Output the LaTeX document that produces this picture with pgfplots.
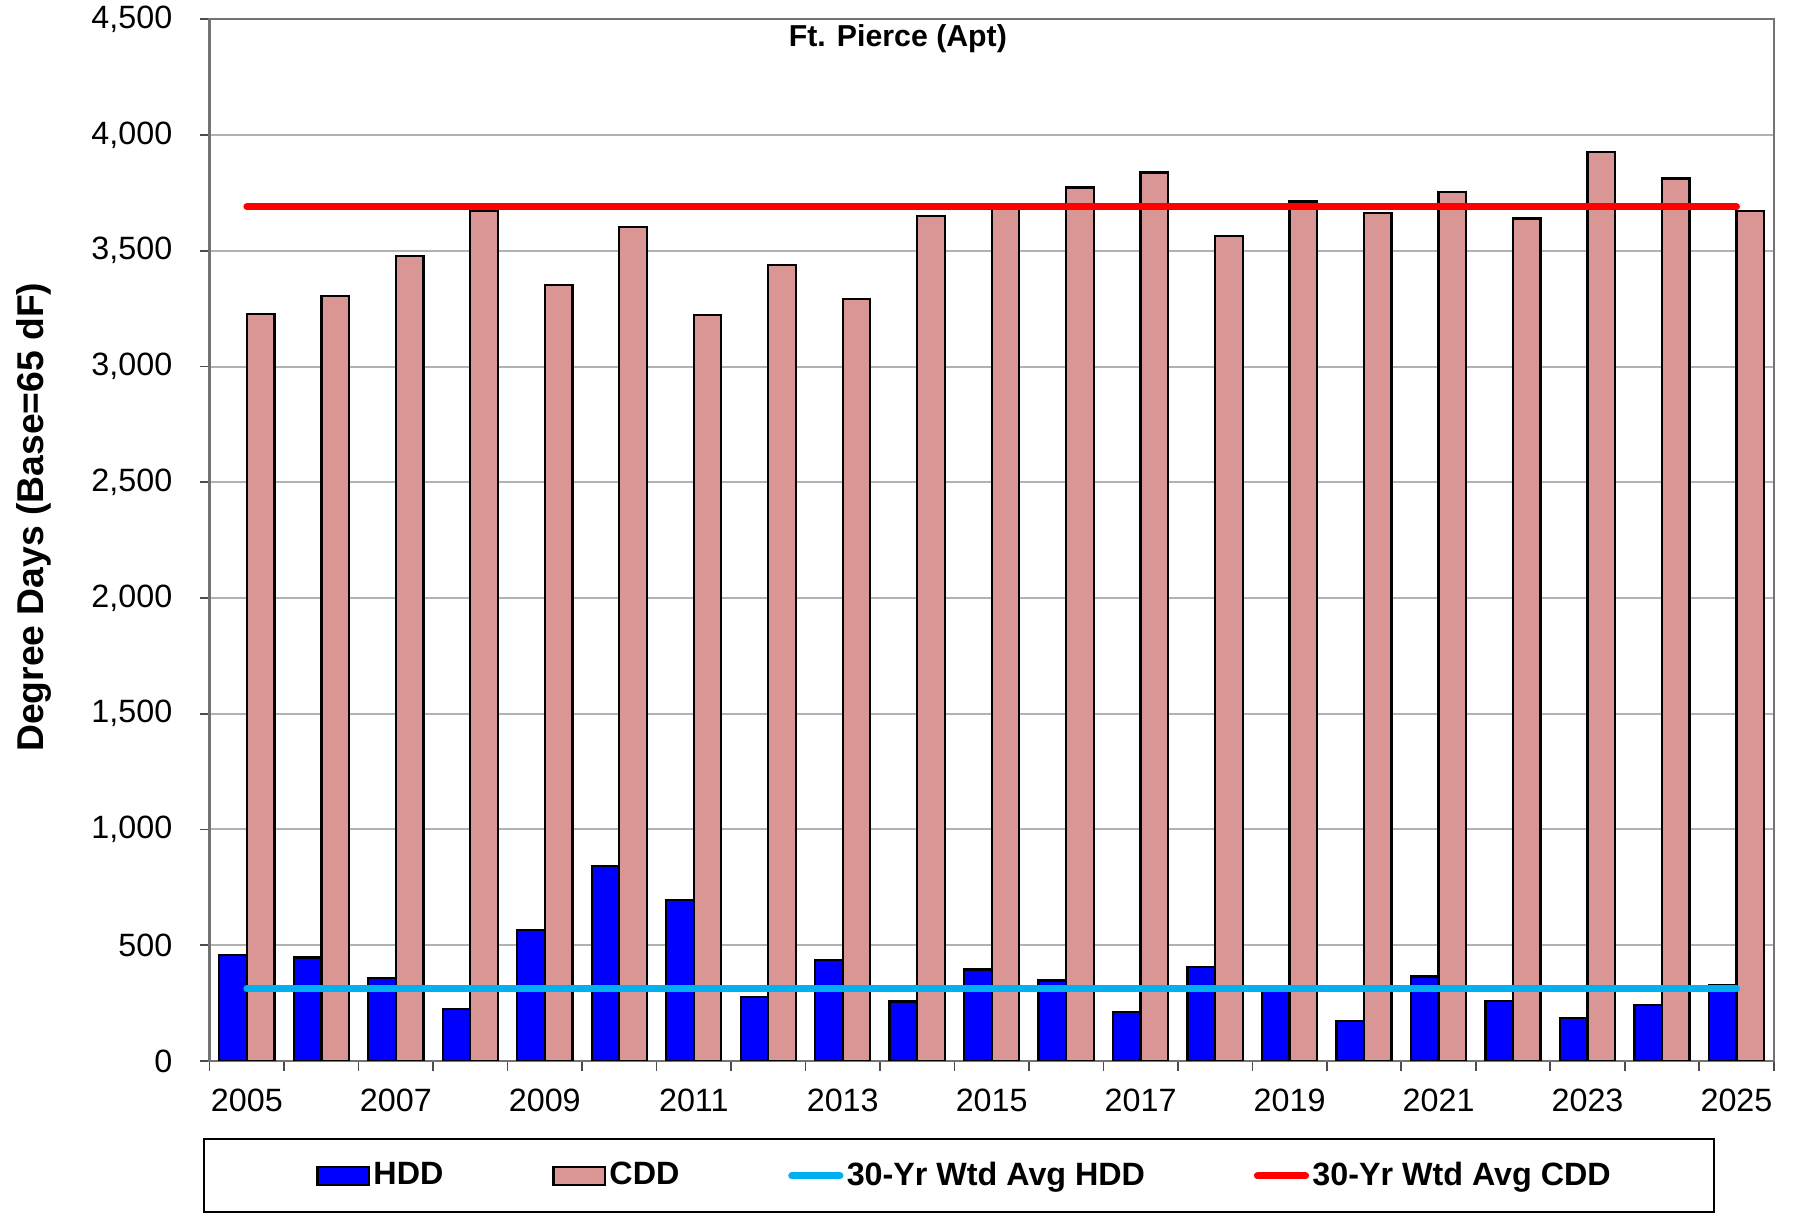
\documentclass[border=0pt]{standalone}
\usepackage{pgfplots}
\pgfplotsset{compat=1.18}
\usepackage{fontspec}
\setmainfont{Liberation Sans}
\definecolor{hddblue}{RGB}{0,0,255}
\definecolor{cddpink}{RGB}{217,150,148}
\definecolor{avgcyan}{RGB}{0,176,240}
\definecolor{avgred}{RGB}{255,0,0}
\begin{document}
\begin{tikzpicture}
\useasboundingbox (-63pt,-46.2pt) rectangle (477pt,318.8pt);
\begin{axis}[
  at={(0,0)}, anchor=south west,
  scale only axis, width=470pt, height=313pt,
  xmin=-0.5, xmax=20.5, ymin=0, ymax=4500,
  xtick={0,2,...,20},
  xticklabels={2005,2007,2009,2011,2013,2015,2017,2019,2021,2023,2025},
  minor xtick={-0.5,0.5,...,20.5},
  ytick={0,500,...,4500},
  tick align=outside, major tick length=3pt, minor tick length=3pt,
  xtick pos=bottom, ytick pos=left,
  major x tick style={draw=none},
  minor x tick style={black!70, line width=0.5pt},
  y tick style={black!70, line width=0.5pt},
  ymajorgrids, grid style={black!30, line width=0.6pt},
  axis line style={black!55, line width=0.7pt},
  scaled y ticks=false,
  /pgf/number format/assume math mode=true,
  yticklabel style={/pgf/number format/1000 sep={,}, /pgf/number format/fixed, font=\fontsize{9.7}{11.6}\selectfont, xshift=-4.7pt},
  xticklabel style={font=\fontsize{9.7}{11.6}\selectfont, yshift=-1.8pt},
  ylabel={Degree Days (Base=65 dF)},
  ylabel style={at={(axis description cs:-0.1121,0.522)}, anchor=center, font=\bfseries\fontsize{11.2}{13.4}\selectfont},
  legend columns=4,
  legend style={at={(axis description cs:0.479,-0.1104)}, anchor=center, draw=black, line width=0.6pt,
    inner xsep=30pt, inner ysep=4.7pt,
    font=\bfseries\fontsize{9.7}{11.6}\selectfont,
    nodes={inner xsep=1pt},
    /tikz/every even column/.append style={column sep=31.7pt}},
]
\addplot[ybar, bar width=0.37, bar shift=-0.185, fill=hddblue, draw=black, line width=0.7pt,
  legend image code/.code={\path (-3.8pt,0pt); \draw[fill=hddblue,draw=black,line width=0.7pt] (0pt,-2.75pt) rectangle (15.5pt,2.75pt);}]
coordinates {
(0,457) (1,447) (2,358) (3,224) (4,565) (5,841) (6,695) (7,275) (8,435) (9,257)
(10,395) (11,347) (12,212) (13,406) (14,310) (15,172) (16,364) (17,259) (18,185) (19,243) (20,327)
};
\addlegendentry{HDD}
\addplot[ybar, bar width=0.37, bar shift=0.185, fill=cddpink, draw=black, line width=0.7pt,
  legend image code/.code={\draw[fill=cddpink,draw=black,line width=0.7pt] (0pt,-2.75pt) rectangle (15.5pt,2.75pt);}]
coordinates {
(0,3227) (1,3305) (2,3477) (3,3672) (4,3351) (5,3603) (6,3223) (7,3440) (8,3292) (9,3649)
(10,3680) (11,3773) (12,3838) (13,3563) (14,3713) (15,3662) (16,3753) (17,3639) (18,3927) (19,3813) (20,3671)
};
\addlegendentry{CDD}
\addplot[avgcyan, line width=2.1pt, line cap=round, mark=none,
  legend image code/.code={\draw[avgcyan,line width=2.1pt,line cap=round] (1pt,0pt) -- (15.5pt,0pt);}]
coordinates {(0,312) (20,312)};
\addlegendentry{30-Yr Wtd Avg HDD}
\addplot[avgred, line width=2.1pt, line cap=round, mark=none,
  legend image code/.code={\draw[avgred,line width=2.1pt,line cap=round] (1pt,0pt) -- (15.5pt,0pt);}]
coordinates {(0,3690) (20,3690)};
\addlegendentry{30-Yr Wtd Avg CDD}
\node[font=\bfseries\fontsize{9.1}{11}\selectfont, anchor=center] at (axis description cs:0.44,0.981) {Ft. Pierce (Apt)};
\end{axis}
\end{tikzpicture}
\end{document}
